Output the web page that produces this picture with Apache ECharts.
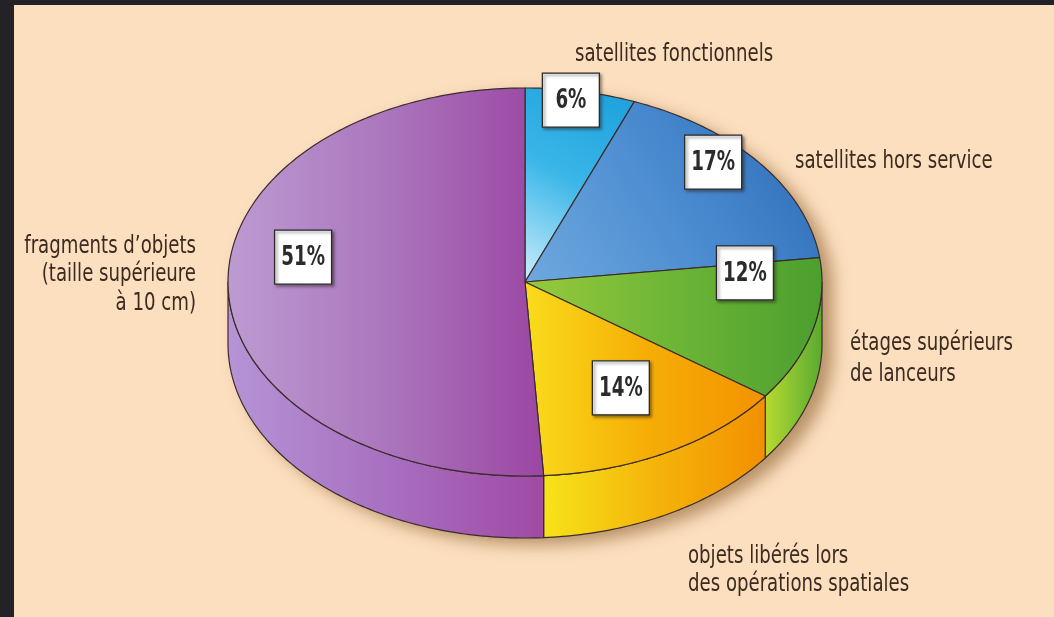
<!DOCTYPE html>
<html>
<head>
<meta charset="utf-8">
<script src="https://cdn.jsdelivr.net/npm/echarts@6/dist/echarts.min.js"></script>
<style>
  html, body { margin: 0; padding: 0; background: #232327; }
  #chart { width: 1054px; height: 617px; }
</style>
</head>
<body>
<div id="chart"></div>
<script>
  // répartition des objets suivis en orbite (%), dans le sens horaire depuis midi
  const categories = [
    'satellites fonctionnels',
    'satellites hors service',
    'étages supérieurs\nde lanceurs',
    'objets libérés lors\ndes opérations spatiales',
    "fragments d’objets\n(taille supérieure\nà 10 cm)"
  ];
  const shares = [6, 17, 12, 14, 51];
  const shareLabels = shares.map(v => v + '%');

  // mise en page
  const CX = 525, CY = 282, RX = 297, RY = 194, DEPTH = 62;
  const SQUASH = RY / RX;
  const FONT = '"DejaVu Sans Condensed", "DejaVu Sans", sans-serif';
  const NARROW = 0.84;   // police étroite simulée
  const INK = '#3a2a20';
  const EDGE = '#3b2c2c';

  // position des étiquettes % : [angle (0-100), rayon relatif]
  const boxAt = [[2.6, 0.95], [12.7, 0.885], [24.0, 0.742], [41.5, 0.634], [77.7, 0.758]];
  // étiquettes extérieures : [x, ligne de base, alignement, interligne]
  const nameAt = [[575, 63, 'left', 29], [795, 170, 'left', 29], [850, 352, 'left', 31],
                  [688, 565, 'left', 28], [196, 255, 'right', 28.5]];

  const grad = (x0, y0, x1, y1, stops) =>
    new echarts.graphic.LinearGradient(x0, y0, x1, y1, stops.map((c, i) => ({offset: i / (stops.length - 1), color: c})));

  const topFill = [
    grad(0, 1, 1, 0, ['#cdeefb', '#3ab6e8', '#1a9fdc']),
    grad(0, 1, 1, 0, ['#6fa8de', '#4a8bd0', '#2a69b4']),
    grad(0, 0, 1, 0, ['#97ca3c', '#6db536', '#4b9f2e']),
    grad(0, 0, 1, 0, ['#f9dc1c', '#f6ae06', '#f39200']),
    grad(0, 0, 1, 0, ['#bc9bd2', '#ab76bd', '#9b46a3'])
  ];
  const sideFill = [null, null,
    grad(0, 0, 1, 0, ['#b9db2c', '#86c232', '#5aa92f']),
    grad(0, 0, 1, 0, ['#f6e31a', '#f5b40a', '#f29000']),
    grad(0, 0, 1, 0, ['#b594d6', '#a870c0', '#a04aa4'])
  ];

  // données construites pour la série : [rayon, début, fin]
  let acc = 0;
  const sliceData = shares.map(v => { const d = [1, acc, acc + v]; acc += v; return d; });

  function renderItem(params, api) {
    const i = params.dataIndex;
    const a0 = api.value(1), a1 = api.value(2);
    const c = api.coord([0, 0]);
    const pt = (r, a, dy) => {
      const p = api.coord([r, a % 100]);
      return [p[0], c[1] + (p[1] - c[1]) * SQUASH + (dy || 0)];
    };
    const arc = (from, to, dy) => {
      const pts = [];
      const n = Math.max(2, Math.ceil((to - from) / 0.25));
      for (let k = 0; k <= n; k++) pts.push(pt(1, from + (to - from) * k / n, dy));
      return pts;
    };
    const children = [];

    if (i === 0) {
      // ombre portée du camembert
      children.push({
        type: 'polygon', z2: -10,
        shape: {points: arc(25, 75, DEPTH).concat(arc(75, 125, 0))},
        style: {fill: '#f2d2a8', shadowBlur: 16, shadowColor: 'rgba(140,95,45,0.6)', shadowOffsetX: 11, shadowOffsetY: 7}
      });
    }

    // flanc visible (moitié avant)
    const s = Math.max(a0, 25), e = Math.min(a1, 75);
    if (s < e) {
      children.push({
        type: 'polygon', z2: 0,
        shape: {points: arc(s, e, 0).concat(arc(s, e, DEPTH).reverse())},
        style: {fill: sideFill[i], stroke: EDGE, lineWidth: 1.2, lineJoin: 'round'}
      });
    }

    // face supérieure
    children.push({
      type: 'polygon', z2: 1,
      shape: {points: [[c[0], c[1]]].concat(arc(a0, a1, 0))},
      style: {fill: topFill[i], stroke: EDGE, lineWidth: 1.2, lineJoin: 'round'}
    });

    // boîte du pourcentage
    const b = pt(boxAt[i][1], boxAt[i][0]);
    const bw = 57, bh = 54;
    children.push({
      type: 'rect', z2: 5,
      shape: {x: b[0] - bw / 2, y: b[1] - bh / 2, width: bw, height: bh},
      style: {fill: '#ffffff', stroke: '#2a2a2a', lineWidth: 1.3,
              shadowBlur: 3, shadowColor: 'rgba(40,30,30,0.55)', shadowOffsetX: 2, shadowOffsetY: 2}
    });
    children.push({
      type: 'text', z2: 6, x: b[0], y: b[1] + 1, scaleX: 0.78,
      style: {text: shareLabels[i], x: 0, y: 0, align: 'center', verticalAlign: 'middle',
              font: 'bold 26px ' + FONT, fill: '#2b2b2b'}
    });

    // libellé extérieur
    const [nx, nb, al, lh] = nameAt[i];
    children.push({
      type: 'text', z2: 6, x: nx, y: nb - (lh / 2 + 0.36 * 24), scaleX: NARROW,
      style: {text: categories[i], x: 0, y: 0, align: al, verticalAlign: 'top',
              lineHeight: lh, font: '24px ' + FONT, fill: INK}
    });

    return {type: 'group', children};
  }

  const chart = echarts.init(document.getElementById('chart'));
  chart.setOption({
    animation: false,
    backgroundColor: '#232327',
    graphic: [{
      type: 'rect', z: -100,
      shape: {x: 14, y: 5, width: 1040, height: 612},
      style: {fill: '#fcdfbf'}
    }],
    polar: {center: [CX, CY], radius: RX},
    angleAxis: {type: 'value', min: 0, max: 100, startAngle: 90, clockwise: true, show: false,
                axisLine: {show: false}, axisTick: {show: false}, axisLabel: {show: false}, splitLine: {show: false}},
    radiusAxis: {type: 'value', min: 0, max: 1, show: false,
                 axisLine: {show: false}, axisTick: {show: false}, axisLabel: {show: false}, splitLine: {show: false}},
    series: [{
      type: 'custom',
      coordinateSystem: 'polar',
      renderItem: renderItem,
      data: sliceData
    }]
  });
</script>
</body>
</html>
